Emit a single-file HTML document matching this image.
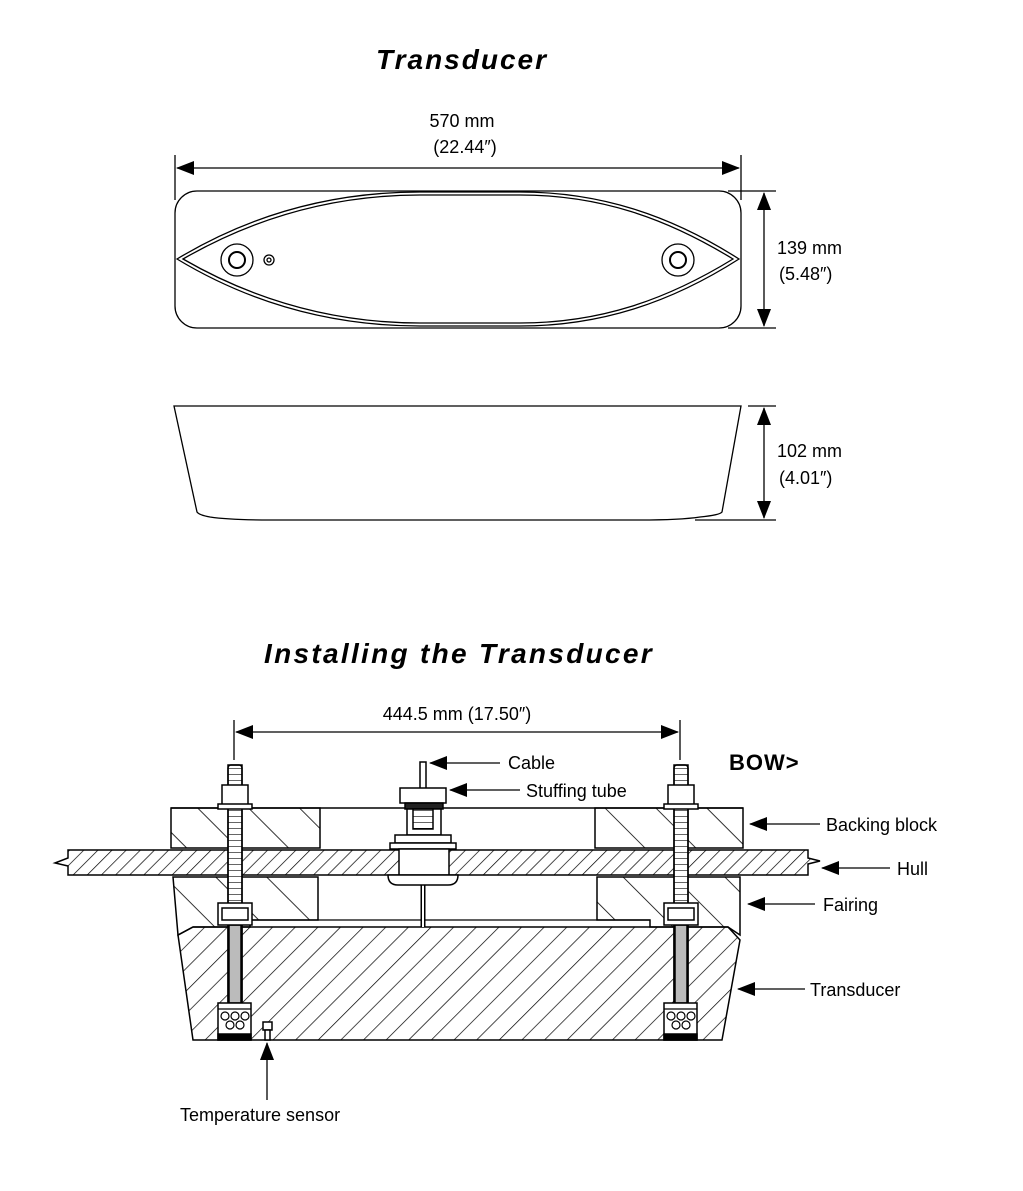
<!DOCTYPE html>
<html><head><meta charset="utf-8"><style>
html,body{margin:0;padding:0;background:#fff;}
svg{display:block}
text{font-family:"Liberation Sans",sans-serif;fill:#000}
</style></head><body>
<svg width="1023" height="1191" viewBox="0 0 1023 1191" xmlns="http://www.w3.org/2000/svg">
<defs>
<pattern id="h1" patternUnits="userSpaceOnUse" width="36" height="36" patternTransform="rotate(-45)">
<line x1="0" y1="0" x2="0" y2="36" stroke="#000" stroke-width="1.6"/></pattern>
<pattern id="h2" patternUnits="userSpaceOnUse" width="10" height="10" patternTransform="rotate(45)">
<line x1="0" y1="0" x2="0" y2="10" stroke="#000" stroke-width="1.4"/></pattern>
<pattern id="h3" patternUnits="userSpaceOnUse" width="16" height="16" patternTransform="rotate(45)">
<line x1="0" y1="0" x2="0" y2="16" stroke="#000" stroke-width="1.4"/></pattern>
<pattern id="thr" patternUnits="userSpaceOnUse" width="14" height="6">
<line x1="0" y1="0" x2="14" y2="0" stroke="#000" stroke-width="1.2"/></pattern>
<marker id="b" markerWidth="18" markerHeight="14" refX="17" refY="7" orient="auto-start-reverse" markerUnits="userSpaceOnUse" viewBox="0 0 18 14">
<path d="M0,0 L18,7 L0,14z" fill="#000"/></marker>
</defs>

<text x="462" y="69" font-size="28" font-weight="bold" font-style="italic" text-anchor="middle" letter-spacing="2">Transducer</text>
<text x="462" y="127" font-size="18" text-anchor="middle">570 mm</text>
<text x="465" y="153" font-size="18" text-anchor="middle">(22.44″)</text>
<g stroke="#000" stroke-width="1.3" fill="none">
<line x1="175" y1="155" x2="175" y2="200"/><line x1="741" y1="155" x2="741" y2="200"/>
<line x1="177" y1="168" x2="739" y2="168" marker-start="url(#b)" marker-end="url(#b)"/>
<rect x="175" y="191" width="566" height="137" rx="22"/>
<path d="M177,259 C250,215 330,192 420,192 L520,192 C600,192 670,215 739,259 C670,303 600,326 520,326 L420,326 C330,326 250,303 177,259z"/>
<path d="M183,259 C254,218 332,195 420,195 L520,195 C600,195 666,218 733,259 C666,300 600,323 520,323 L420,323 C332,323 254,300 183,259z"/>
<circle cx="237" cy="260" r="16"/><circle cx="237" cy="260" r="8" stroke-width="2"/>
<circle cx="269" cy="260" r="5"/><circle cx="269" cy="260" r="2"/>
<circle cx="678" cy="260" r="16"/><circle cx="678" cy="260" r="8" stroke-width="2"/>
<line x1="728" y1="191" x2="776" y2="191"/><line x1="728" y1="328" x2="776" y2="328"/>
<line x1="764" y1="193" x2="764" y2="326" marker-start="url(#b)" marker-end="url(#b)"/>
<path d="M174,406 L741,406 L722,512 Q720,515 700,517 Q680,520 640,520 L270,520 Q230,520 210,517 Q199,515 197,512z"/>
<line x1="748" y1="406" x2="776" y2="406"/><line x1="695" y1="520" x2="776" y2="520"/>
<line x1="764" y1="408" x2="764" y2="518" marker-start="url(#b)" marker-end="url(#b)"/>
</g>
<text x="777" y="254" font-size="18">139 mm</text>
<text x="779" y="280" font-size="18">(5.48″)</text>
<text x="777" y="457" font-size="18">102 mm</text>
<text x="779" y="484" font-size="18">(4.01″)</text>

<text x="459" y="663" font-size="28" font-weight="bold" font-style="italic" text-anchor="middle" letter-spacing="2.3">Installing the Transducer</text>
<text x="457" y="720" font-size="18" text-anchor="middle">444.5 mm (17.50″)</text>
<g stroke="#000" stroke-width="1.3" fill="none">
<line x1="234" y1="720" x2="234" y2="760"/><line x1="680" y1="720" x2="680" y2="760"/>
<line x1="236" y1="732" x2="678" y2="732" marker-start="url(#b)" marker-end="url(#b)"/>
</g>
<g stroke="#000" stroke-width="1.5">
<path d="M178,935 L193,927 L728,927 L740,940 L722,1040 L193,1040z" fill="url(#h3)"/>
<path d="M173,877 L318,877 L318,920 L250,920 L250,927 L193,927 L178,935z" fill="url(#h1)"/>
<path d="M597,877 L740,877 L740,935 L728,927 L650,927 L650,920 L597,920z" fill="url(#h1)"/>
<line x1="250" y1="920" x2="650" y2="920" stroke-width="1.2"/>
<line x1="171" y1="808" x2="743" y2="808"/>
<rect x="171" y="808" width="149" height="40" fill="url(#h1)"/>
<rect x="595" y="808" width="148" height="40" fill="url(#h1)"/>
<path d="M68,850 L808,850 L808,858 L820,861 L808,864 L808,875 L68,875 L68,866 L55,863 L68,858z" fill="url(#h2)"/>
</g>
<g stroke="#000" stroke-width="1.5" fill="#fff">
<rect x="420" y="762" width="6" height="28"/>
<line x1="423" y1="885" x2="423" y2="927" stroke-width="5"/>
<line x1="423" y1="885" x2="423" y2="927" stroke="#fff" stroke-width="2"/>
<rect x="400" y="788" width="46" height="15"/>
<rect x="405" y="803" width="38" height="6" fill="#222"/>
<rect x="407" y="809" width="34" height="26"/>
<rect x="413" y="809" width="20" height="20" fill="url(#thr)"/>
<rect x="395" y="835" width="56" height="8"/>
<rect x="390" y="843" width="66" height="6"/>
<rect x="399" y="849" width="50" height="26"/>
<path d="M388,875 L458,875 Q458,885 448,885 L398,885 Q388,885 388,875z"/>
</g>
<g stroke="#000" stroke-width="1.5">
<g>
<rect x="228" y="765" width="14" height="240" fill="#fff" rx="3"/>
<rect x="228" y="765" width="14" height="240" fill="url(#thr)"/>
<rect x="229" y="925" width="12" height="78" fill="#bbb"/>
<rect x="222" y="785" width="26" height="20" fill="#fff"/>
<rect x="218" y="804" width="34" height="5" fill="#fff"/>
<rect x="218" y="903" width="34" height="22" fill="#fff"/>
<rect x="222" y="908" width="26" height="12" fill="#fff"/>
<rect x="218" y="1003" width="33" height="37" fill="#fff"/>
<rect x="218" y="1034" width="33" height="6" fill="#000"/>
<g fill="none" stroke-width="1.2"><circle cx="225" cy="1016" r="4"/><circle cx="235" cy="1016" r="4"/><circle cx="245" cy="1016" r="4"/><circle cx="230" cy="1025" r="4"/><circle cx="240" cy="1025" r="4"/><line x1="218" y1="1009" x2="251" y2="1009"/></g>
</g>
<g transform="translate(446,0)">
<rect x="228" y="765" width="14" height="240" fill="#fff" rx="3"/>
<rect x="228" y="765" width="14" height="240" fill="url(#thr)"/>
<rect x="229" y="925" width="12" height="78" fill="#bbb"/>
<rect x="222" y="785" width="26" height="20" fill="#fff"/>
<rect x="218" y="804" width="34" height="5" fill="#fff"/>
<rect x="218" y="903" width="34" height="22" fill="#fff"/>
<rect x="222" y="908" width="26" height="12" fill="#fff"/>
<rect x="218" y="1003" width="33" height="37" fill="#fff"/>
<rect x="218" y="1034" width="33" height="6" fill="#000"/>
<g fill="none" stroke-width="1.2"><circle cx="225" cy="1016" r="4"/><circle cx="235" cy="1016" r="4"/><circle cx="245" cy="1016" r="4"/><circle cx="230" cy="1025" r="4"/><circle cx="240" cy="1025" r="4"/><line x1="218" y1="1009" x2="251" y2="1009"/></g>
</g>
<rect x="263" y="1022" width="9" height="8" fill="#fff"/>
<rect x="265" y="1030" width="5" height="10" fill="#fff"/>
</g>
<g stroke="#000" stroke-width="1.3">
<line x1="500" y1="763" x2="430" y2="763" marker-end="url(#b)"/>
<line x1="520" y1="790" x2="450" y2="790" marker-end="url(#b)"/>
<line x1="820" y1="824" x2="750" y2="824" marker-end="url(#b)"/>
<line x1="890" y1="868" x2="822" y2="868" marker-end="url(#b)"/>
<line x1="815" y1="904" x2="748" y2="904" marker-end="url(#b)"/>
<line x1="805" y1="989" x2="738" y2="989" marker-end="url(#b)"/>
<line x1="267" y1="1100" x2="267" y2="1043" marker-end="url(#b)"/>
</g>
<g font-size="18">
<text x="508" y="769">Cable</text>
<text x="526" y="797">Stuffing tube</text>
<text x="826" y="831">Backing block</text>
<text x="897" y="875">Hull</text>
<text x="823" y="911">Fairing</text>
<text x="810" y="996">Transducer</text>
<text x="180" y="1121">Temperature sensor</text>
</g>
<text x="729" y="770" font-size="22" font-weight="bold" letter-spacing="1">BOW&gt;</text>
</svg>
</body></html>
